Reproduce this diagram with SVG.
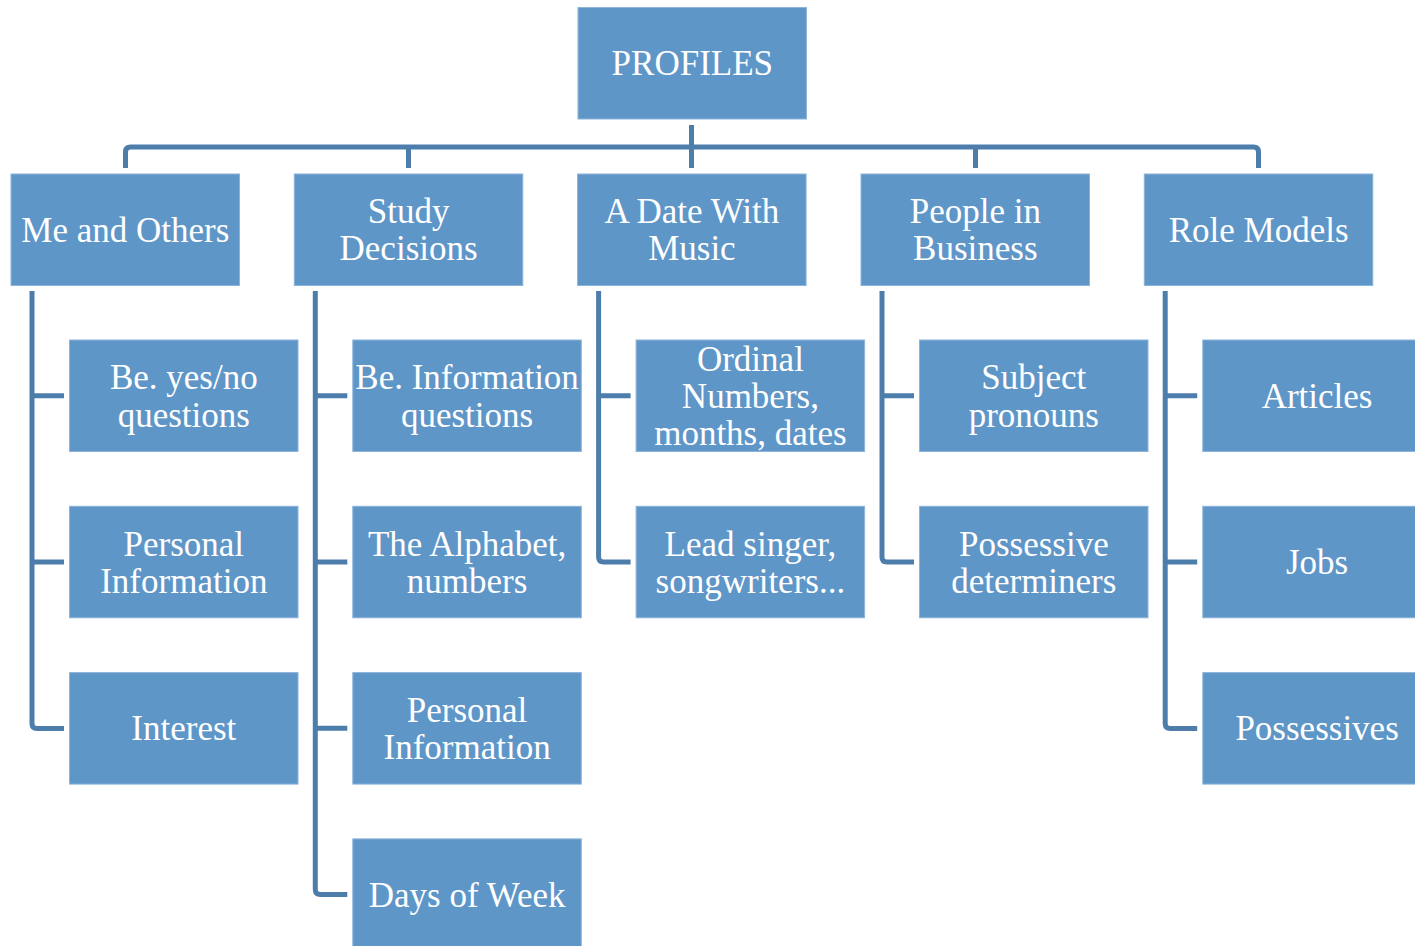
<svg xmlns="http://www.w3.org/2000/svg" width="1415" height="946" viewBox="0 0 1415 946">
<style>
.box{fill:#5f96c8;stroke:#8db4da;stroke-width:1}
.t{font-family:"Liberation Serif","Times New Roman",serif;font-size:35px;fill:#ffffff;text-anchor:middle}
.c{fill:none;stroke:#4d7dab;stroke-width:5;stroke-linejoin:round}
</style>
<rect width="1415" height="946" fill="#ffffff"/>
<g id="connectors">
<path class="c" d="M691.5,125 V168"/>
<path class="c" d="M125.5,168 V152 Q125.5,147 130.5,147 H1253.5 Q1258.5,147 1258.5,152 V168"/>
<path class="c" d="M408.5,147 V168 M975.5,147 V168"/>
<path class="c" d="M32,291 V723.5 Q32,728.5 37,728.5 H64 M32,395.7 H64 M32,562 H64"/>
<path class="c" d="M315.3,291 V889.6 Q315.3,894.6 320.3,894.6 H347.3 M315.3,395.7 H347.3 M315.3,562 H347.3 M315.3,728.3 H347.3"/>
<path class="c" d="M598.6,291 V557 Q598.6,562 603.6,562 H630.6 M598.6,395.7 H630.6"/>
<path class="c" d="M882,291 V557 Q882,562 887,562 H914 M882,395.7 H914"/>
<path class="c" d="M1165.2,291 V723.5 Q1165.2,728.5 1170.2,728.5 H1197.2 M1165.2,395.7 H1197.2 M1165.2,562 H1197.2"/>
</g>
<g id="profiles"><rect class="box" x="578" y="7.5" width="228.5" height="111.5"/><text class="t" x="692.3" y="75">PROFILES</text></g>
<g id="me-and-others"><rect class="box" x="11" y="174" width="228.5" height="111.5"/><text class="t" x="125.3" y="241.7">Me and Others</text></g>
<g id="study-decisions"><rect class="box" x="294.3" y="174" width="228.5" height="111.5"/><text class="t" x="408.6" y="223">Study</text><text class="t" x="408.6" y="260.3">Decisions</text></g>
<g id="date-with-music"><rect class="box" x="577.6" y="174" width="228.5" height="111.5"/><text class="t" x="691.9" y="223">A Date With</text><text class="t" x="691.9" y="260.3">Music</text></g>
<g id="people-in-business"><rect class="box" x="861" y="174" width="228.5" height="111.5"/><text class="t" x="975.3" y="223">People in</text><text class="t" x="975.3" y="260.3">Business</text></g>
<g id="role-models"><rect class="box" x="1144.3" y="174" width="228.5" height="111.5"/><text class="t" x="1258.6" y="241.7">Role Models</text></g>

<g id="be-yes-no"><rect class="box" x="69.5" y="340" width="228.5" height="111.5"/><text class="t" x="183.8" y="389.3">Be. yes/no</text><text class="t" x="183.8" y="426.6">questions</text></g>
<g id="personal-info-1"><rect class="box" x="69.5" y="506.3" width="228.5" height="111.5"/><text class="t" x="183.8" y="555.6">Personal</text><text class="t" x="183.8" y="592.9">Information</text></g>
<g id="interest"><rect class="box" x="69.5" y="672.6" width="228.5" height="111.5"/><text class="t" x="183.8" y="740.3">Interest</text></g>

<g id="be-information"><rect class="box" x="352.8" y="340" width="228.5" height="111.5"/><text class="t" x="467.1" y="389.3">Be. Information</text><text class="t" x="467.1" y="426.6">questions</text></g>
<g id="alphabet"><rect class="box" x="352.8" y="506.3" width="228.5" height="111.5"/><text class="t" x="467.1" y="555.6">The Alphabet,</text><text class="t" x="467.1" y="592.9">numbers</text></g>
<g id="personal-info-2"><rect class="box" x="352.8" y="672.6" width="228.5" height="111.5"/><text class="t" x="467.1" y="721.9">Personal</text><text class="t" x="467.1" y="759.2">Information</text></g>
<g id="days-of-week"><rect class="box" x="352.8" y="838.9" width="228.5" height="111.5"/><text class="t" x="467.1" y="906.6">Days of Week</text></g>

<g id="ordinal"><rect class="box" x="636.1" y="340" width="228.5" height="111.5"/><text class="t" x="750.4" y="370.7">Ordinal</text><text class="t" x="750.4" y="407.9">Numbers,</text><text class="t" x="750.4" y="445.1">months, dates</text></g>
<g id="lead-singer"><rect class="box" x="636.1" y="506.3" width="228.5" height="111.5"/><text class="t" x="750.4" y="555.6">Lead singer,</text><text class="t" x="750.4" y="592.9">songwriters...</text></g>

<g id="subject-pronouns"><rect class="box" x="919.5" y="340" width="228.5" height="111.5"/><text class="t" x="1033.8" y="389.3">Subject</text><text class="t" x="1033.8" y="426.6">pronouns</text></g>
<g id="possessive-determiners"><rect class="box" x="919.5" y="506.3" width="228.5" height="111.5"/><text class="t" x="1033.8" y="555.6">Possessive</text><text class="t" x="1033.8" y="592.9">determiners</text></g>

<g id="articles"><rect class="box" x="1202.8" y="340" width="228.5" height="111.5"/><text class="t" x="1317.1" y="407.7">Articles</text></g>
<g id="jobs"><rect class="box" x="1202.8" y="506.3" width="228.5" height="111.5"/><text class="t" x="1317.1" y="574">Jobs</text></g>
<g id="possessives"><rect class="box" x="1202.8" y="672.6" width="228.5" height="111.5"/><text class="t" x="1317.1" y="740.3">Possessives</text></g>
</svg>
